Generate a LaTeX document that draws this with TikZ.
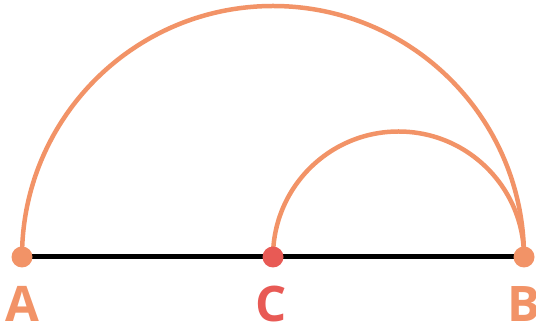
\documentclass[tikz,border=0pt]{standalone}
\usepackage{fontspec}
\setmainfont{Open Sans}
\definecolor{orng}{HTML}{F29367}
\definecolor{redc}{HTML}{E85A55}
\begin{document}
\begin{tikzpicture}[x=1pt,y=-1pt,
  arcline/.style={draw=orng,line width=4.5pt},
  pt/.style={circle,inner sep=0pt,minimum size=21pt},
  lbl/.style={font=\fontsize{49}{49}\selectfont\bfseries,inner sep=0pt,text depth=0pt}]
\useasboundingbox (0,0) rectangle (536,328);
\coordinate (A) at (22,257);
\coordinate (C) at (273,257);
\coordinate (B) at (524,257);
\draw[line width=5pt] (A) -- (B);
\draw[arcline] (A) arc[start angle=180,end angle=360,radius=251];
\draw[arcline] (C) arc[start angle=180,end angle=360,radius=125.5];
\node[pt,fill=orng] (dA) at (A) {};
\node[pt,fill=redc] (dC) at (C) {};
\node[pt,fill=orng] (dB) at (B) {};
\node[lbl,text=orng,anchor=base] (lA) at (22,322) {A};
\node[lbl,text=redc,anchor=base] (lC) at (271,322) {C};
\node[lbl,text=orng,anchor=base] (lB) at (524,322) {B};
\end{tikzpicture}
\end{document}
